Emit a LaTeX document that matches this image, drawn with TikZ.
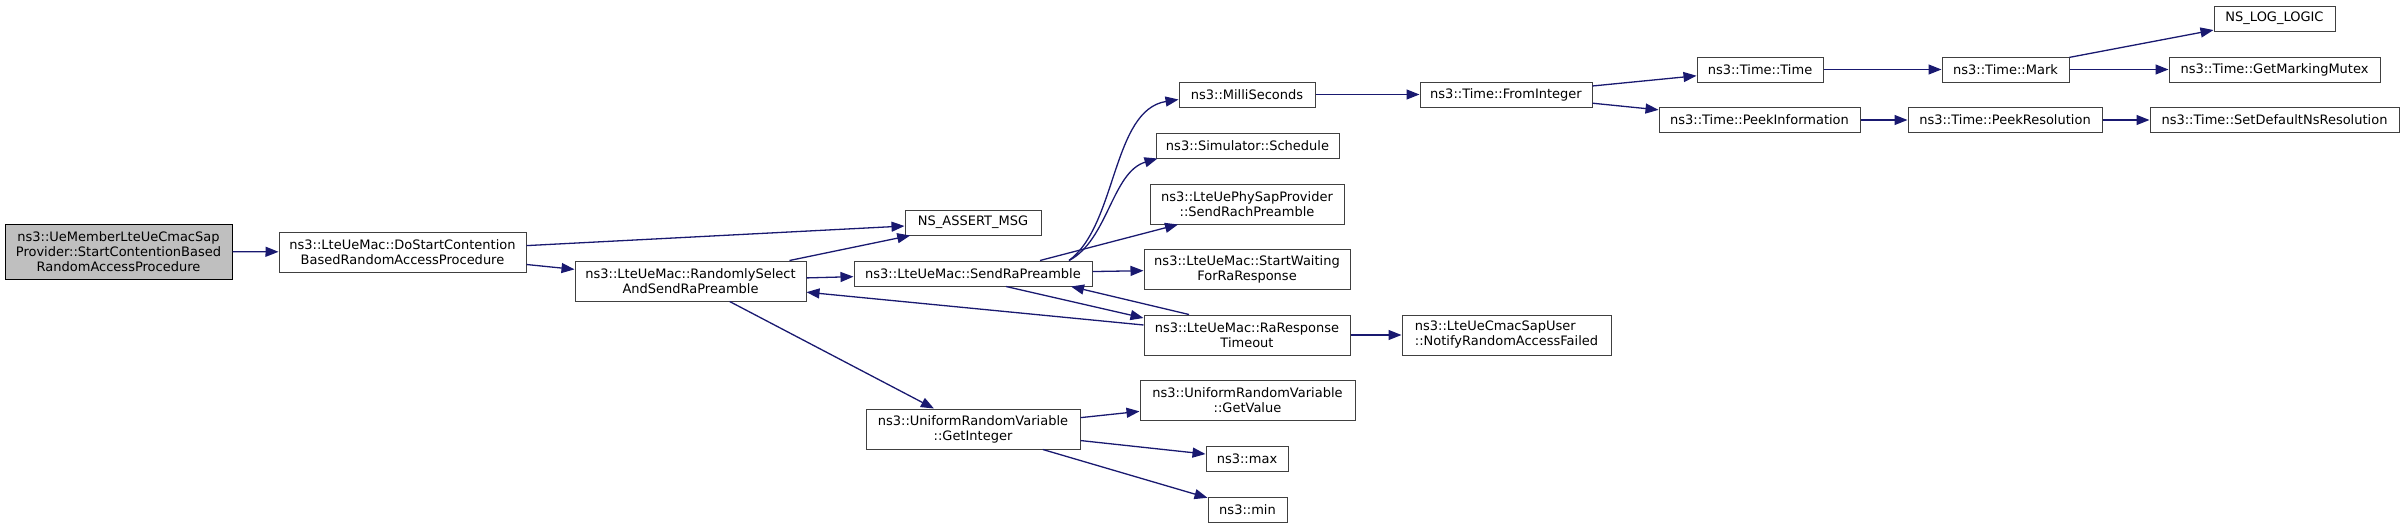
\documentclass[tikz,border=0pt]{standalone}
\usepackage{fontspec}
\setmainfont{DejaVu Sans}
\usetikzlibrary{arrows.meta,calc}
\definecolor{edgeblue}{HTML}{191970}
\definecolor{boxgray}{HTML}{404040}
\definecolor{rootgray}{HTML}{BFBFBF}

\begin{document}
\begin{tikzpicture}[x=1pt, y=-1pt,
  fn/.style={draw=boxgray, fill=white, line width=1pt, inner sep=0pt, align=center,
    minimum height=25pt, font=\fontsize{13}{15}\selectfont},
  fntwo/.style={fn, minimum height=40pt},
  call/.style={draw=edgeblue, line width=1.3pt, -{Triangle[length=13pt, width=10pt]}}]

  \useasboundingbox (0,0) rectangle (2404,528);

  \node[fn, fill=rootgray, draw=black, minimum width=227pt, minimum height=55pt] (start) at (118.5,251.5)
    {ns3::UeMemberLteUeCmacSap\\Provider::StartContentionBased\\RandomAccessProcedure};

  \foreach \n/\x/\y/\w/\t in {
      dostart/402.5/252/247/{ns3::LteUeMac::DoStartContention\\BasedRandomAccessProcedure},
      randsel/690.5/281/231/{ns3::LteUeMac::RandomlySelect\\AndSendRaPreamble},
      phy/1247/204/194/{ns3::LteUePhySapProvider\\::SendRachPreamble},
      wait/1247/269/206/{ns3::LteUeMac::StartWaiting\\ForRaResponse},
      timeout/1247/335/206/{ns3::LteUeMac::RaResponse\\Timeout},
      getval/1247.5/400/215/{ns3::UniformRandomVariable\\::GetValue},
      getint/973/429/214/{ns3::UniformRandomVariable\\::GetInteger}} {
    \node[fntwo, minimum width=\w pt] (\n) at (\x,\y) {\t};
  }

  \node[fntwo, align=left, minimum width=209pt] (notify) at (1506.5,335)
    {ns3::LteUeCmacSapUser\\::NotifyRandomAccessFailed};

  \foreach \n/\x/\y/\w/\t in {
      assert/973/222.5/136/{NS\_ASSERT\_MSG},
      sendra/973/273.5/238/{ns3::LteUeMac::SendRaPreamble},
      milli/1247/94.5/136/{ns3::MilliSeconds},
      sched/1247.5/145.5/183/{ns3::Simulator::Schedule},
      max/1247/458.5/82/{ns3::max},
      min/1247.5/509.5/79/{ns3::min},
      fromint/1506/94.5/172/{ns3::Time::FromInteger},
      ttime/1760/69.5/126/{ns3::Time::Time},
      peekinfo/1759.5/120/201/{ns3::Time::PeekInformation},
      mark/2005.5/69.5/127/{ns3::Time::Mark},
      peekres/2005/120/194/{ns3::Time::PeekResolution},
      loglogic/2274.5/18.5/121/{NS\_LOG\_LOGIC},
      mutex/2274.5/69.5/211/{ns3::Time::GetMarkingMutex},
      setres/2274.5/120/249/{ns3::Time::SetDefaultNsResolution}} {
    \node[fn, minimum width=\w pt] (\n) at (\x,\y) {\t};
  }

  \foreach \a/\b in {start/dostart, dostart/assert, dostart/randsel, randsel/assert,
      randsel/sendra, randsel/getint, timeout/randsel, sendra/wait, timeout/notify,
      getint/getval, getint/max, getint/min, milli/fromint, fromint/ttime,
      fromint/peekinfo, ttime/mark, mark/loglogic, mark/mutex, peekinfo/peekres,
      peekres/setres} {
    \draw[call] (\a) -- (\b);
  }

  \draw[call] ($(sendra.north)+(96,0)$) .. controls (1117,225) and (1112,110) .. ($(milli.west)+(0,5)$);
  \draw[call] ($(sendra.north)+(96,0)$) .. controls (1108,240) and (1112,172) .. ($(sched.south west)+(2,0)$);
  \draw[call] ($(sendra.north)+(67,0)$) -- ($(phy.south)+(-69,0)$);
  \draw[call] ($(sendra.south)+(33,0)$) -- ($(timeout.west)+(0,-17)$);
  \draw[call] ($(timeout.north)+(-58,0)$) -- ($(sendra.south)+(98,0)$);

\end{tikzpicture}
\end{document}
